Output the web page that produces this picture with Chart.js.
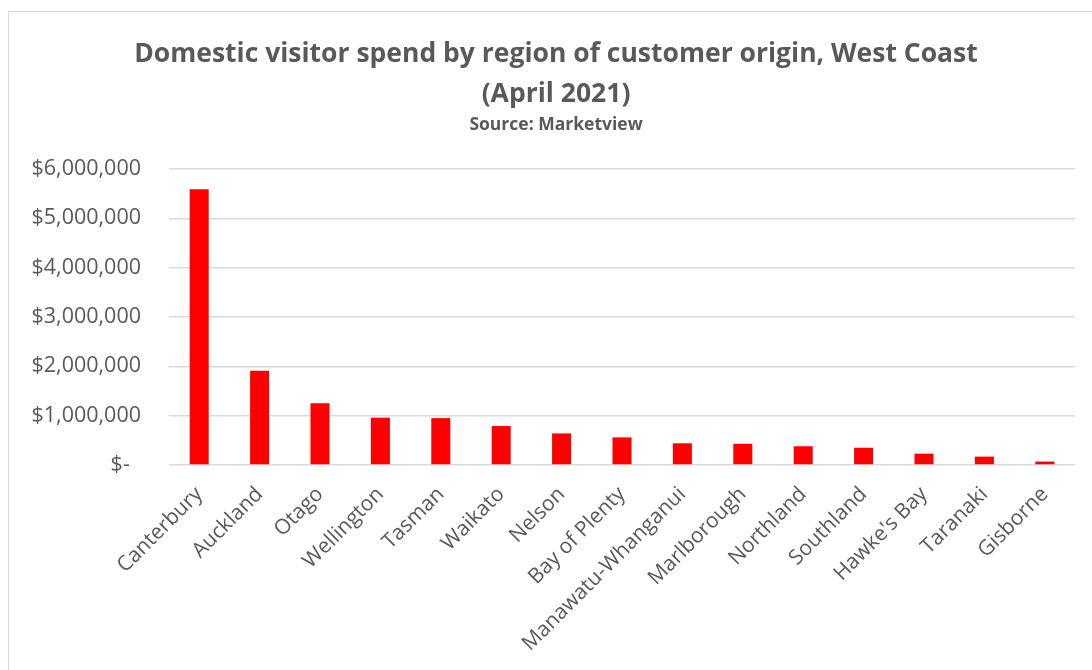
<!DOCTYPE html>
<html>
<head>
<meta charset="utf-8">
<script src="https://cdn.jsdelivr.net/npm/chart.js@4/dist/chart.umd.min.js"></script>
<style>
  html, body { margin: 0; padding: 0; background: #fff; overflow: hidden; }
  #frame { position: absolute; left: 8px; top: 11px; width: 1100px; height: 700px; border: 1px solid #d9d9d9; }
  #wrap { position: absolute; left: 0; top: 0; width: 1092px; height: 670px; }
</style>
</head>
<body>
<div id="frame"></div>
<div id="wrap"><canvas id="chart"></canvas></div>
<script>
// data
const regions = ['Canterbury', 'Auckland', 'Otago', 'Wellington', 'Tasman', 'Waikato', 'Nelson',
  'Bay of Plenty', 'Manawatu-Whanganui', 'Marlborough', 'Northland', 'Southland',
  "Hawke's Bay", 'Taranaki', 'Gisborne'];
const spend = [5590000, 1910000, 1250000, 960000, 950000, 790000, 640000,
  560000, 440000, 430000, 380000, 350000, 230000, 170000, 70000];
const yTicks = [0, 1000000, 2000000, 3000000, 4000000, 5000000, 6000000];

const grey = '#595959';
const ctx = document.getElementById('chart').getContext('2d');

// the original frame is wider than the picture, so its titles sit right of the canvas centre
const shiftTitle = {
  id: 'shiftTitle',
  afterLayout(chart) {
    chart.boxes.filter(b => !b.axis && b.position === 'top').forEach(b => { b.left = 37; });
  }
};

new Chart(ctx, {
  type: 'bar',
  data: {
    labels: regions,
    datasets: [{ data: spend, backgroundColor: '#ff0000', borderWidth: 0,
      categoryPercentage: 1, barPercentage: 0.315 }]
  },
  options: {
    responsive: true,
    maintainAspectRatio: false,
    animation: false,
    layout: { padding: { top: 0, right: 17, left: 0, bottom: 0 } },
    plugins: {
      legend: { display: false },
      tooltip: { enabled: false },
      title: {
        display: true,
        text: ['Domestic visitor spend by region of customer origin, West Coast', '(April 2021)'],
        color: grey,
        font: { family: 'Open Sans', size: 26.5, weight: 'bold', lineHeight: 1.51 },
        padding: { top: 34, bottom: 0 }
      },
      subtitle: {
        display: true,
        text: 'Source: Marketview',
        color: grey,
        font: { family: 'Open Sans', size: 17.5, weight: 'bold', lineHeight: 1.2 },
        padding: { top: 0, bottom: 34 }
      }
    },
    scales: {
      x: {
        grid: { display: false },
        border: { display: false },
        ticks: { color: grey, font: { family: 'Open Sans', size: 21 }, minRotation: 45, maxRotation: 45, padding: 9 },
        afterFit: s => { s.height = 205; }
      },
      y: {
        min: 0,
        max: 6000000,
        afterBuildTicks: s => { s.ticks = yTicks.map(v => ({ value: v })); },
        grid: { color: '#d9d9d9', lineWidth: 1.5, drawTicks: false },
        border: { display: false },
        ticks: {
          color: grey,
          font: { family: 'Open Sans', size: 21.5 },
          padding: 28,
          callback: v => v === 0 ? '$-  ' : '$' + v.toLocaleString('en-US')
        },
        afterFit: s => { s.width = 169; }
      }
    }
  },
  plugins: [shiftTitle]
});
</script>
</body>
</html>
